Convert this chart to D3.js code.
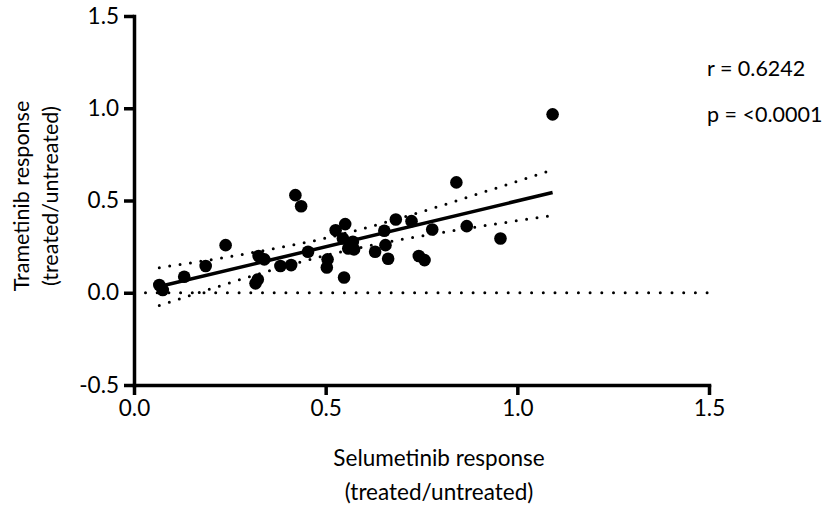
<!DOCTYPE html>
<html>
<head>
<meta charset="utf-8">
<script src="https://cdn.jsdelivr.net/npm/d3@7/dist/d3.min.js"></script>
<style>
  body { margin: 0; background: #fff; }
  svg text { font-family: Lato, "Open Sans", sans-serif; fill: #000; }
</style>
</head>
<body>
<div id="chart"></div>
<script>
// data
var selumetinib = [0.066, 0.075, 0.131, 0.187, 0.239, 0.317, 0.323, 0.325, 0.340, 0.382,
                   0.410, 0.421, 0.436, 0.454, 0.505, 0.503, 0.548, 0.526, 0.551, 0.545,
                   0.559, 0.574, 0.571, 0.629, 0.656, 0.663, 0.653, 0.683, 0.724, 0.743,
                   0.758, 0.778, 0.868, 0.841, 0.956, 1.092];
var trametinib  = [0.042, 0.015, 0.087, 0.145, 0.258, 0.051, 0.072, 0.199, 0.181, 0.145,
                   0.150, 0.529, 0.469, 0.222, 0.181, 0.137, 0.083, 0.339, 0.372, 0.294,
                   0.240, 0.235, 0.276, 0.222, 0.258, 0.184, 0.336, 0.397, 0.388, 0.199,
                   0.177, 0.343, 0.361, 0.598, 0.294, 0.967];

// linear fit and its 95% band
var fitSlope = 0.497, fitIntercept = 0.0007;
var bandX     = [0.066, 0.2, 0.35, 0.5, 0.65, 0.8, 0.95, 1.092];
var bandUpper = [0.136, 0.179, 0.233, 0.296, 0.378, 0.471, 0.571, 0.667];
var bandLower = [-0.069, 0.021, 0.117, 0.202, 0.270, 0.325, 0.375, 0.419];

var xTicks = [0, 0.5, 1.0, 1.5];
var yTicks = [-0.5, 0, 0.5, 1.0, 1.5];
var statLabels = ["r = 0.6242", "p = <0.0001"];

var width = 824, height = 509;
var fontSize = 22.5;

var svg = d3.select("#chart").append("svg")
    .attr("width", width)
    .attr("height", height);

var x = d3.scaleLinear().domain([0, 1.5]).range([134, 709]);
var y = d3.scaleLinear().domain([-0.5, 1.5]).range([385, 16]);

// plain hyphen for negatives, like the original
var fmt = function(d) { return d3.format(".1f")(d).replace("\u2212", "-"); };

// zero line
svg.append("line")
    .attr("x1", x(0.03)).attr("x2", x(1.5))
    .attr("y1", y(0)).attr("y2", y(0))
    .attr("stroke", "#000")
    .attr("stroke-width", 3)
    .attr("stroke-linecap", "round")
    .attr("stroke-dasharray", "0 11.7");

// confidence band
var bandLine = d3.line()
    .x(function(d) { return x(d[0]); })
    .y(function(d) { return y(d[1]); })
    .curve(d3.curveMonotoneX);

[bandUpper, bandLower].forEach(function(b) {
  svg.append("path")
      .datum(bandX.map(function(v, i) { return [v, b[i]]; }))
      .attr("d", bandLine)
      .attr("fill", "none")
      .attr("stroke", "#000")
      .attr("stroke-width", 3)
      .attr("stroke-linecap", "round")
      .attr("stroke-dasharray", "0 10.5");
});

// points
svg.selectAll(".dot")
    .data(selumetinib)
  .enter().append("circle")
    .attr("class", "dot")
    .attr("cx", function(d) { return x(d); })
    .attr("cy", function(d, i) { return y(trametinib[i]); })
    .attr("r", 6.3)
    .attr("fill", "#000");

// fit line
var xMin = d3.min(selumetinib), xMax = d3.max(selumetinib);
svg.append("line")
    .attr("x1", x(xMin)).attr("y1", y(fitSlope * xMin + fitIntercept))
    .attr("x2", x(xMax)).attr("y2", y(fitSlope * xMax + fitIntercept))
    .attr("stroke", "#000")
    .attr("stroke-width", 3.5);

// axes
var xAxis = svg.append("g")
    .attr("transform", "translate(0," + y(-0.5) + ")")
    .call(d3.axisBottom(x).tickValues(xTicks).tickFormat(fmt)
          .tickSize(10).tickSizeOuter(0).tickPadding(5));

var yAxis = svg.append("g")
    .attr("transform", "translate(" + x(0) + ",0)")
    .call(d3.axisLeft(y).tickValues(yTicks).tickFormat(fmt)
          .tickSize(10).tickSizeOuter(0).tickPadding(5));

[xAxis, yAxis].forEach(function(a) {
  a.attr("font-family", null).attr("font-size", fontSize);
  a.select(".domain").attr("stroke-width", 3.5).attr("stroke-linecap", "square");
  a.selectAll(".tick line").attr("stroke-width", 3.5);
  a.selectAll(".tick text").attr("fill", "#000");
});

// axis titles
svg.append("text")
    .attr("x", 439).attr("y", 466)
    .attr("text-anchor", "middle")
    .attr("font-size", fontSize)
    .text("Selumetinib response");
svg.append("text")
    .attr("x", 439).attr("y", 500)
    .attr("text-anchor", "middle")
    .attr("font-size", fontSize)
    .text("(treated/untreated)");

svg.append("text")
    .attr("transform", "translate(29,196) rotate(-90)")
    .attr("text-anchor", "middle")
    .attr("font-size", 21.5)
    .text("Trametinib response");
svg.append("text")
    .attr("transform", "translate(58,196) rotate(-90)")
    .attr("text-anchor", "middle")
    .attr("font-size", 21.5)
    .text("(treated/untreated)");

// stats
svg.selectAll(".stat")
    .data(statLabels)
  .enter().append("text")
    .attr("class", "stat")
    .attr("x", 707)
    .attr("y", function(d, i) { return 76 + i * 46; })
    .attr("font-size", 21.5)
    .text(function(d) { return d; });
</script>
</body>
</html>
